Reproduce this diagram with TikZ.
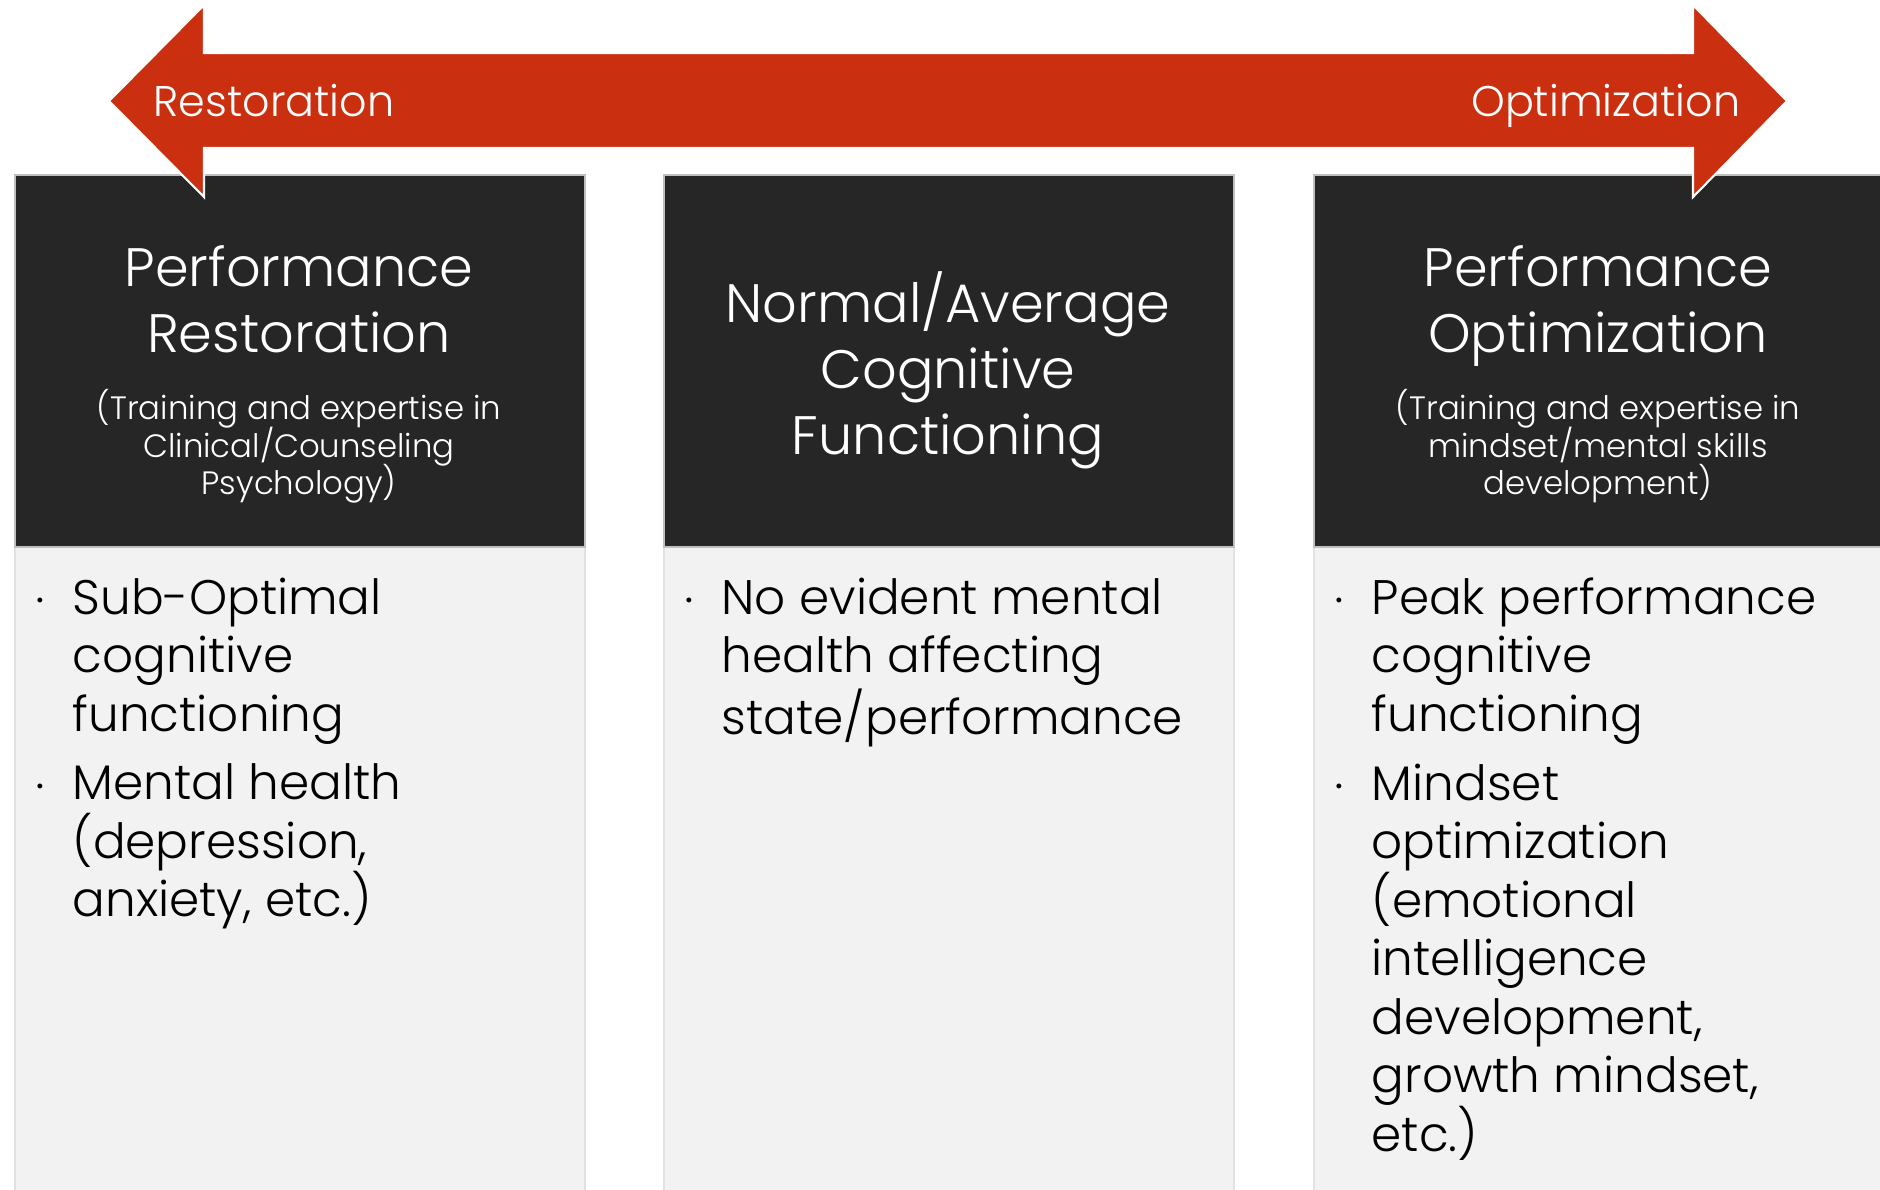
\documentclass[tikz,border=0pt]{standalone}
\usepackage{fontspec}
\IfFontExistsTF{Poppins Light}{\setmainfont{Poppins Light}}{\setmainfont{Poppins}}

\definecolor{bandred}{HTML}{CA2F10}
\definecolor{headdark}{HTML}{262626}
\definecolor{headrule}{HTML}{BFBFBF}
\definecolor{bodyfill}{HTML}{F2F2F2}
\definecolor{bodyrule}{HTML}{E2E2E2}

%small print under the titles, with a fixed line pitch
\newcommand{\subsize}{\fontsize{9.2}{10.6}\selectfont\lineskiplimit=-1cm\relax}

\tikzset{
	headbox/.style={draw=headrule, fill=headdark, line width=0.6pt, anchor=north west,
		minimum width=5.70cm, minimum height=3.72cm, inner sep=0pt},
	bodybox/.style={draw=bodyrule, fill=bodyfill, line width=0.6pt, anchor=north west,
		minimum width=5.70cm, minimum height=6.80cm, inner sep=0pt},
	titletext/.style={white, anchor=north, align=center, inner sep=0pt,
		font=\fontsize{15.4}{18.8}\selectfont},
	subtext/.style={white, anchor=north, align=center, inner sep=0pt, font=\subsize},
	itemtext/.style={black, anchor=north west, align=left, inner sep=0pt,
		font=\fontsize{13.8}{16.65}\selectfont},
	itemdot/.style={black, inner sep=0pt, font=\fontsize{6}{6}\selectfont},
	dirlabel/.style={white, inner sep=0pt, font=\fontsize{12.2}{14}\selectfont}
}

\begin{document}
\begin{tikzpicture}[y=-1cm]
		\useasboundingbox (0,0) rectangle (18.80,11.89);
		
		%left column: restoring performance
		\begin{scope}[shift={(0.14,0)}]
			\node[bodybox] (bdRest) at (0,5.46) {};
			\node[headbox] (hdRest) at (0,1.74) {};
			\node[titletext] (ttlRest) at (2.85,2.45) {Performance\\Restoration};
			\node[subtext] (subRest) at (2.85,3.89) {(Training and expertise in\\Clinical/Counseling\\Psychology)};
			\node[itemdot] at (0.26,6.03) {\textbullet};
			\node[itemtext] (itRestA) at (0.58,5.77) {Sub-Optimal\\cognitive\\functioning};
			\node[itemdot] at (0.26,7.89) {\textbullet};
			\node[itemtext] (itRestB) at (0.58,7.63) {Mental health\\(depression,\\anxiety, etc.)};
		\end{scope}
		
		%middle column: the normal range
		\begin{scope}[shift={(6.63,0)}]
			\node[bodybox] (bdNorm) at (0,5.46) {};
			\node[headbox] (hdNorm) at (0,1.74) {};
			\node[titletext] (ttlNorm) at (2.85,2.71) {Normal/Average\\Cognitive\\Functioning};
			\node[itemdot] at (0.26,6.03) {\textbullet};
			\node[itemtext] (itNormA) at (0.58,5.77) {No evident mental\\health affecting\\state/performance};
		\end{scope}
		
		%right column: optimising performance (runs off the page edge)
		\begin{scope}[shift={(13.13,0)}]
			\node[bodybox] (bdOpt) at (0,5.46) {};
			\node[headbox] (hdOpt) at (0,1.74) {};
			\node[titletext] (ttlOpt) at (2.85,2.45) {Performance\\Optimization};
			\node[subtext] (subOpt) at (2.85,3.89) {(Training and expertise in\\mindset/mental skills\\development)};
			\node[itemdot] at (0.26,6.03) {\textbullet};
			\node[itemtext] (itOptA) at (0.58,5.77) {Peak performance\\cognitive\\functioning};
			\node[itemdot] at (0.26,7.89) {\textbullet};
			\node[itemtext] (itOptB) at (0.58,7.63) {Mindset\\optimization\\(emotional\\intelligence\\development,\\growth mindset,\\etc.)};
		\end{scope}
		
		%double headed band across the top, drawn over the boxes
		\fill[bandred, draw=white, line width=0.6pt] (1.09,1.01) -- (2.04,0.05) -- (2.04,0.53)
			-- (16.93,0.53) -- (16.93,0.05) -- (17.87,1.01) -- (16.93,1.97) -- (16.93,1.48)
			-- (2.04,1.48) -- (2.04,1.97) -- cycle;
		\node[dirlabel, anchor=base west] (lblRest) at (1.53,1.16) {Restoration};
		\node[dirlabel, anchor=base east] (lblOpt) at (17.41,1.16) {Optimization};
	\end{tikzpicture}
\end{document}
